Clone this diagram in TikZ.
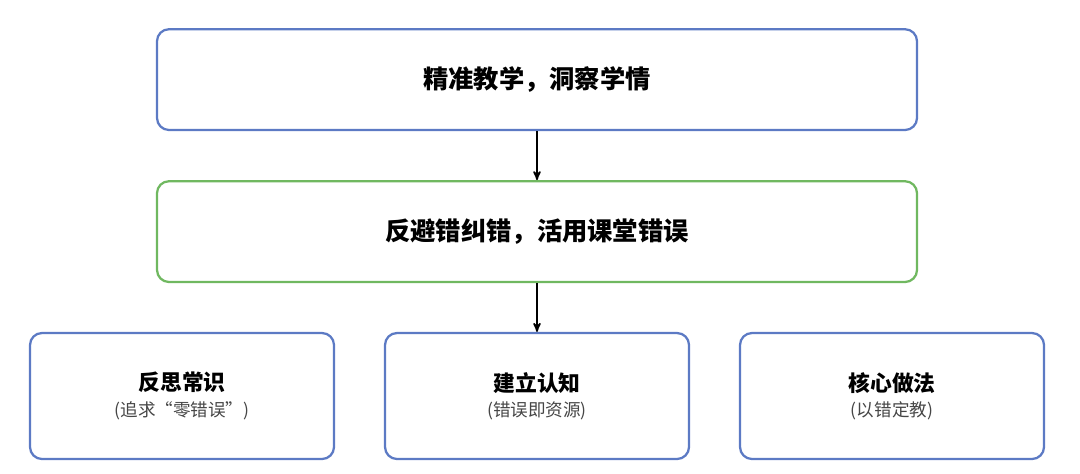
\documentclass[tikz,border=0pt]{standalone}
\usepackage{fontspec}
\setmainfont{Noto Sans CJK SC}
\usetikzlibrary{calc, arrows}

\definecolor{boxblue}{RGB}{92,122,196}
\definecolor{boxgreen}{RGB}{112,184,96}
\definecolor{subgray}{RGB}{70,70,70}

\begin{document}
\begin{tikzpicture}[
        box/.style={draw=boxblue, line width=1.6pt, rounded corners=0.3cm, fill=white,
            minimum width=19cm, minimum height=2.52cm, align=center,
            font=\fontsize{18}{21}\selectfont\bfseries},
        gbox/.style={box, draw=boxgreen},
        sbox/.style={box, minimum width=7.6cm, minimum height=3.15cm,
            font=\fontsize{15.5}{19}\selectfont\bfseries},
        link/.style={line width=1.2pt, ->, >=stealth'}
    ]
        \useasboundingbox (0,0) rectangle (27,-11.825);
        \node[box] (top) at (13.425,-1.99) {精准教学，洞察学情};
        \node[gbox] (mid) at (13.425,-5.79) {反避错纠错，活用课堂错误};
        \node[sbox] (left) at (4.55,-9.9) {反思常识\\[-1pt]{\fontsize{12.5}{15}\selectfont\mdseries\color{subgray}(追求“零错误”)}};
        \node[sbox] (centre) at (13.425,-9.9) {建立认知\\[-1pt]{\fontsize{12.5}{15}\selectfont\mdseries\color{subgray}(错误即资源)}};
        \node[sbox] (right) at (22.3,-9.9) {核心做法\\[-1pt]{\fontsize{12.5}{15}\selectfont\mdseries\color{subgray}(以错定教)}};
        \draw[link] (top) -- (mid);
        \draw[link] (mid) -- (centre);
    \end{tikzpicture}
\end{document}
